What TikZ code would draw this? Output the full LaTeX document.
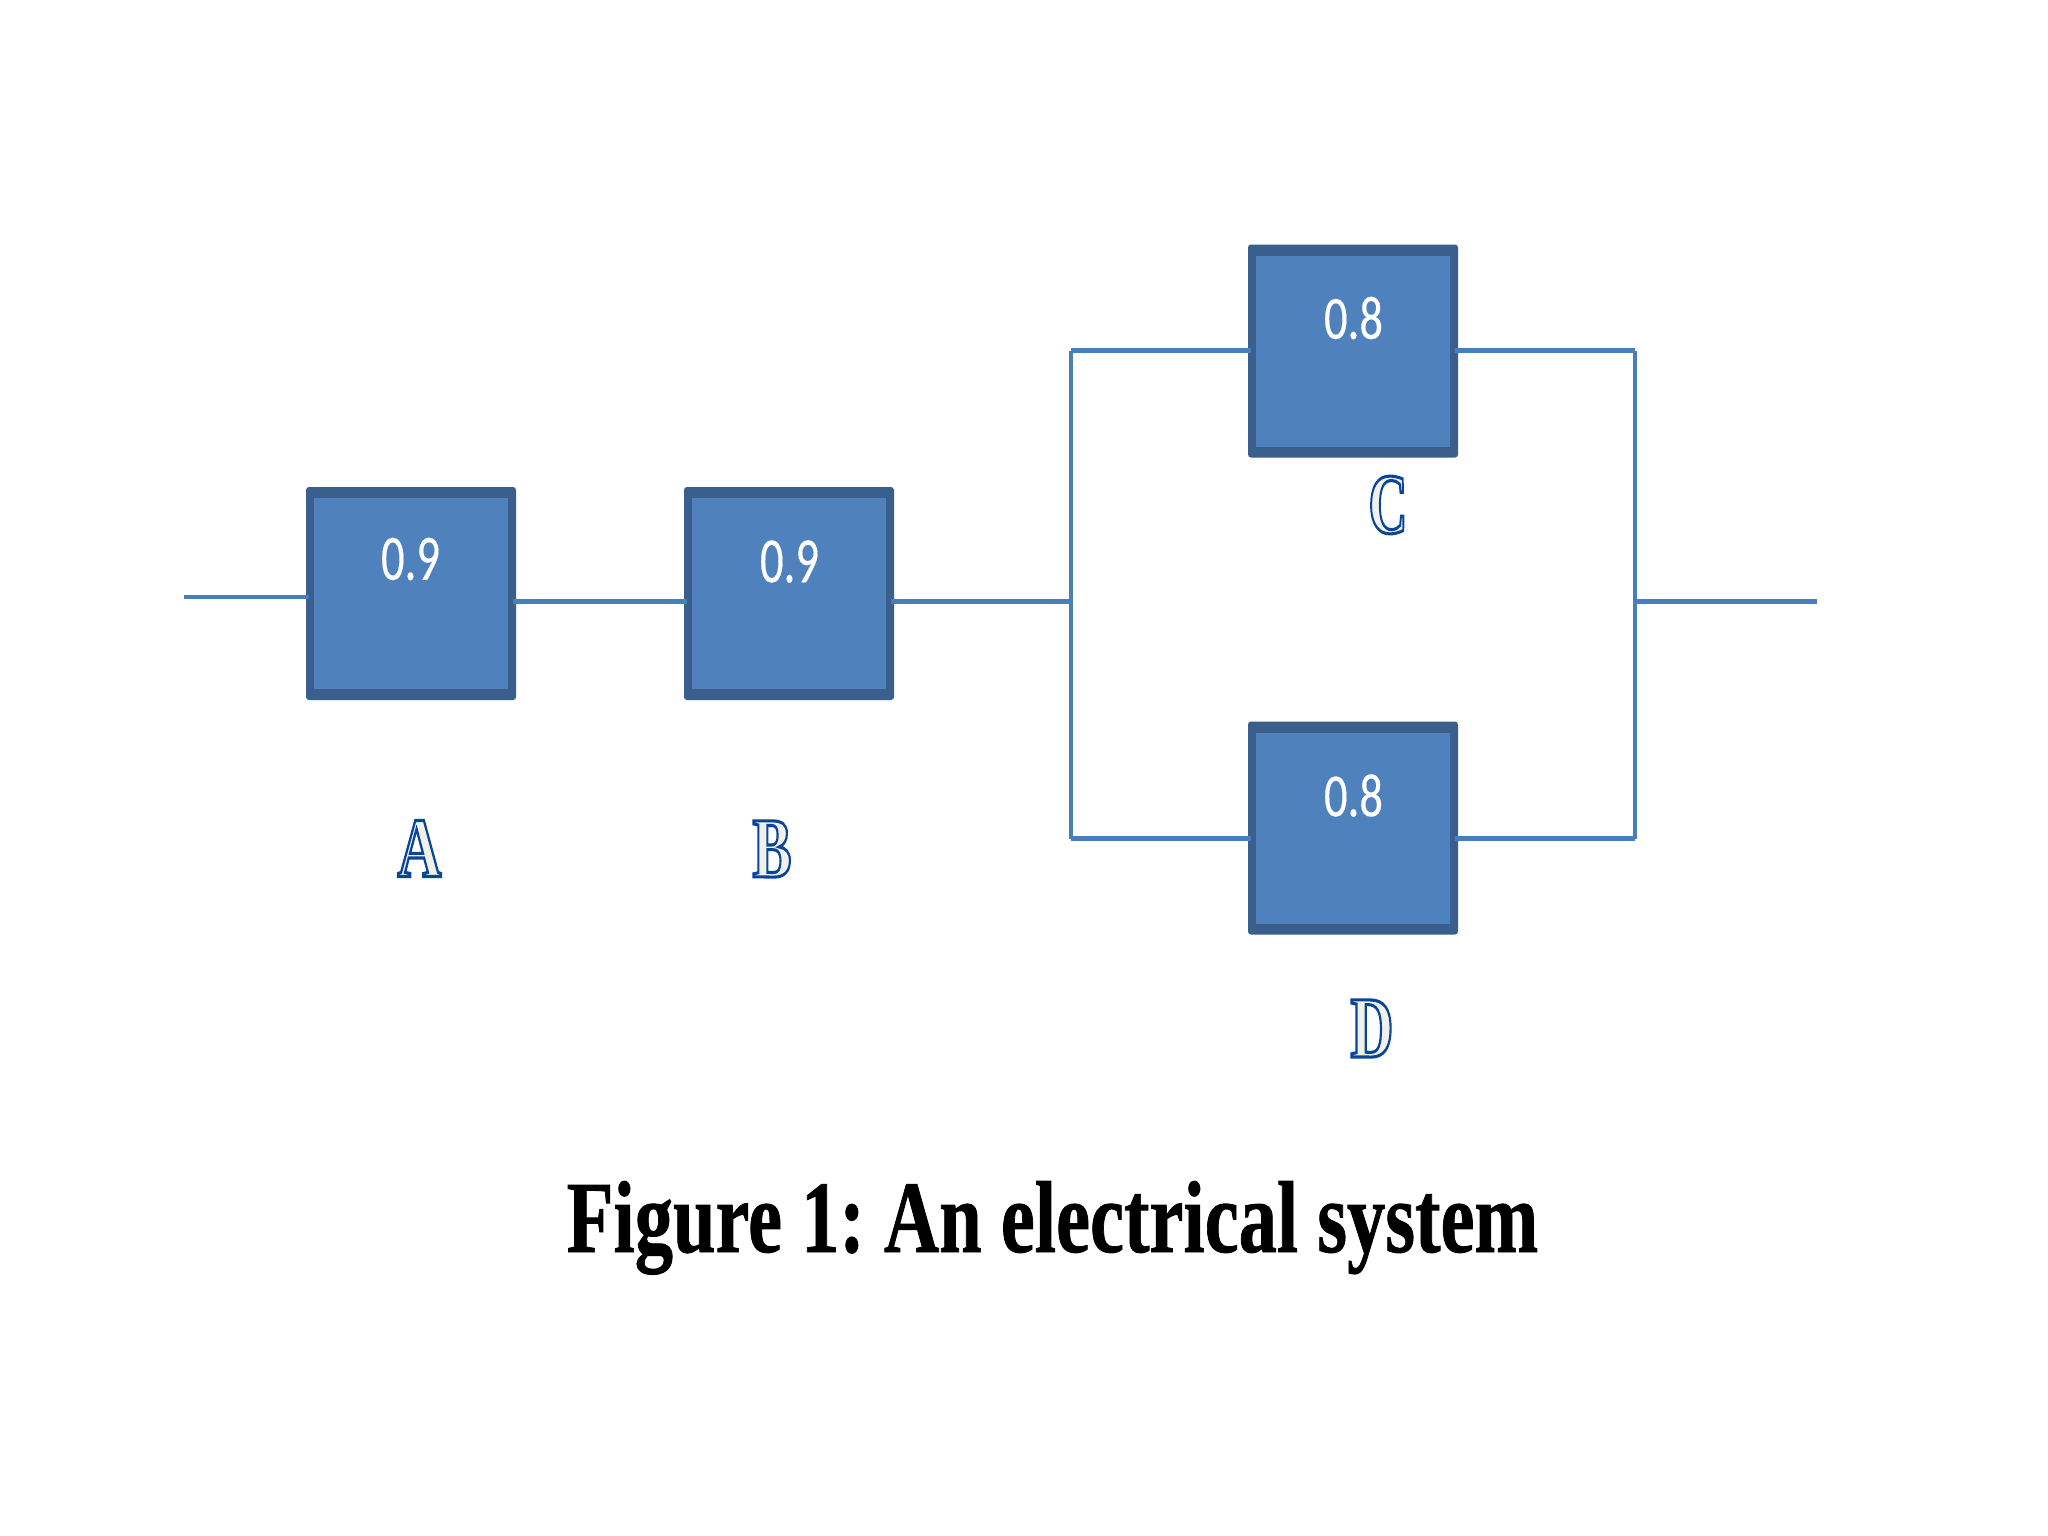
\documentclass[tikz,border=0pt]{standalone}
\usepackage{fontspec}
\setmainfont{Liberation Serif}
\newfontfamily\valuefont{Carlito}
\definecolor{boxfill}{HTML}{4F81BD}
\definecolor{boxedge}{HTML}{3A5F8C}
\definecolor{wirecol}{HTML}{4A7EBB}
\definecolor{letterfill}{HTML}{F1F1EA}
\newcommand{\valuetext}[1]{\resizebox{59pt}{42pt}{\valuefont\color{white}\special{pdf:code 2 Tr 0.025 w 1 1 1 RG}#1\special{pdf:code 0 Tr}}}
\newcommand{\outlineletter}[3]{\resizebox{#1}{#2}{\bfseries\color{letterfill}\special{pdf:code 2 Tr 0.36 w 0.04 0.27 0.6 RG}#3\special{pdf:code 0 Tr}}}
\tikzset{
  outerbox/.style={draw=none,fill=boxedge,rounded corners=3pt,inner sep=0pt,minimum width=210pt,minimum height=213pt},
  innerbox/.style={draw=none,fill=boxfill,inner sep=0pt,minimum width=194pt,minimum height=191pt},
  wire/.style={draw=wirecol,line width=4.2pt},
  intobox/.style={shorten >=-3pt},
  valuelabel/.style={inner sep=0pt,text=white},
  letterlabel/.style={inner sep=0pt},
  captionlabel/.style={inner sep=0pt,anchor=base,text=black}
}
\begin{document}
\begin{tikzpicture}[x=1pt,y=-1pt]
\useasboundingbox[fill=white] (0,0) rectangle (2048,1536);
% boxes
\node[outerbox] (A) at (411,593.5) {};
\node[outerbox] (B) at (789,593.5) {};
\node[outerbox] (C) at (1353,351) {};
\node[outerbox] (D) at (1353,828) {};
\node[innerbox] (Ai) at (A) {};
\node[innerbox] (Bi) at (B) {};
\node[innerbox] (Ci) at (C) {};
\node[innerbox] (Di) at (D) {};
% values
\node[valuelabel] (va) at (410.5,559) {\valuetext{0.9}};
\node[valuelabel] (vb) at (789.5,561.5) {\valuetext{0.9}};
\node[valuelabel] (vc) at (1353.5,318) {\valuetext{0.8}};
\node[valuelabel] (vd) at (1353.5,795.5) {\valuetext{0.8}};
% wire corners
\coordinate (in) at (184,597);
\coordinate (out) at (1817,601.5);
\coordinate (ml) at (1071,601.5);
\coordinate (mr) at (1635,601.5);
\coordinate (tl) at (1071,350.5);
\coordinate (bl) at (1071,838.5);
\coordinate (tr) at (1635,350.5);
\coordinate (br) at (1635,838.5);
% wires
\draw[wire,intobox] (in) -- (A.west |- in);
\draw[wire,shorten <=-3pt,intobox] (A.east |- ml) -- (B.west |- ml);
\draw[wire,shorten <=-3pt] (B.east |- ml) -- (ml);
\draw[wire] (mr) -- (out);
\draw[wire,intobox] (tl) -- (C.west |- tl);
\draw[wire,intobox] (bl) -- (D.west |- bl);
\draw[wire,intobox] (tr) -- (C.east |- tr);
\draw[wire,intobox] (br) -- (D.east |- br);
\draw[wire,line cap=butt] (tl) -- (bl);
\draw[wire,line cap=butt] (tr) -- (br);
% letters
\node[letterlabel] (la) at (419.5,848.5) {\outlineletter{44pt}{56pt}{A}};
\node[letterlabel] (lb) at (772,849) {\outlineletter{39pt}{56pt}{B}};
\node[letterlabel] (lc) at (1388,505) {\outlineletter{39pt}{57pt}{C}};
\node[letterlabel] (ld) at (1372,1028.5) {\outlineletter{43pt}{57pt}{D}};
% caption
\node[captionlabel] (cap) at (1052.5,1252) {\resizebox{971pt}{71pt}{\frenchspacing\bfseries\special{pdf:code 2 Tr 0.09 w 0 0 0 RG}Figure 1: An electrical system\special{pdf:code 0 Tr}}};
\end{tikzpicture}
\end{document}
